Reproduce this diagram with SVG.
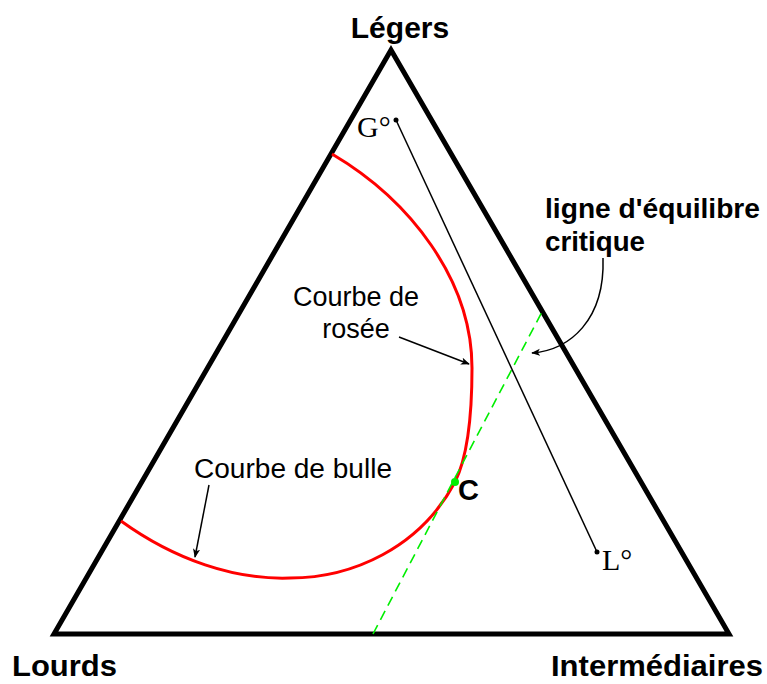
<svg xmlns="http://www.w3.org/2000/svg" width="767" height="684" viewBox="0 0 767 684">
<defs>
<style>
.bold{font-family:"Liberation Sans",Arial,sans-serif;font-weight:bold;fill:#000}
.reg{font-family:"Liberation Sans",Arial,sans-serif;fill:#000}
.serif{font-family:"Liberation Serif","Times New Roman",serif;fill:#000}
.thin{fill:none;stroke:#000;stroke-width:1.5}
</style>
<marker id="arr" viewBox="0 0 10 10" refX="9" refY="5" markerWidth="9" markerHeight="9" markerUnits="userSpaceOnUse" orient="auto">
<path d="M0,1 L10,5 L0,9 L2.5,5 Z" fill="#000"/>
</marker>
</defs>
<rect width="767" height="684" fill="#fff"/>
<g id="triangle">
<polygon points="391,50 54,634 729,634" fill="none" stroke="#000" stroke-width="5" stroke-linejoin="miter"/>
</g>
<g id="curve">
<path d="M121,521 C175,560 235,580 290,578 C352,578 420,548 455,482 C466,460 472,420 472,368 C472,280 410,200 332,154" fill="none" stroke="#ff0000" stroke-width="3"/>
</g>
<g id="connectors">
<line x1="373" y1="634" x2="543" y2="310" stroke="#00ee00" stroke-width="1.6" stroke-dasharray="10,6"/>
<line class="thin" x1="396" y1="120" x2="597" y2="552"/>
<line class="thin" x1="399" y1="337" x2="469" y2="364" marker-end="url(#arr)"/>
<line class="thin" x1="209" y1="485" x2="195" y2="557" marker-end="url(#arr)"/>
<path class="thin" d="M603,258 C605,320 570,350 532,353" marker-end="url(#arr)"/>
</g>
<g id="points">
<circle cx="396" cy="120" r="2.5" fill="#000"/>
<circle cx="597" cy="552" r="2.5" fill="#000"/>
<circle cx="455" cy="482" r="4" fill="#00ee00"/>
</g>
<g id="labels">
<text class="bold" x="400" y="38" font-size="30" text-anchor="middle">Légers</text>
<text class="bold" x="12" y="676" font-size="29" textLength="105" lengthAdjust="spacingAndGlyphs">Lourds</text>
<text class="bold" x="551" y="676" font-size="29" textLength="212" lengthAdjust="spacingAndGlyphs">Intermédiaires</text>
<text class="bold" x="545" y="218" font-size="27" textLength="215" lengthAdjust="spacingAndGlyphs">ligne d'équilibre</text>
<text class="bold" x="545" y="251" font-size="27" textLength="100" lengthAdjust="spacingAndGlyphs">critique</text>
<text class="reg" x="356" y="306" font-size="27" text-anchor="middle">Courbe de</text>
<text class="reg" x="356" y="338" font-size="27" text-anchor="middle">rosée</text>
<text class="reg" x="194" y="478" font-size="27" textLength="198" lengthAdjust="spacingAndGlyphs">Courbe de bulle</text>
<text class="bold" x="458" y="500" font-size="29">C</text>
<text class="serif" x="357" y="137" font-size="30">G°</text>
<text class="serif" x="602" y="570" font-size="30">L°</text>
</g>
</svg>
